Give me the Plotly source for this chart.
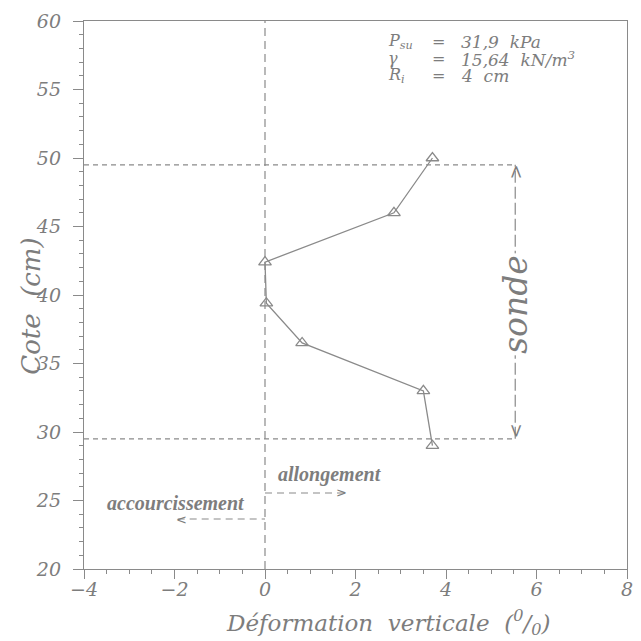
import plotly.graph_objects as go

# ---- data ----
deformation = [3.7, 2.85, 0.0, 0.03, 0.82, 3.5, 3.7]
cote = [50, 46, 42.4, 39.4, 36.5, 33, 29]

x_ticks = [-4, -2, 0, 2, 4, 6, 8]
y_ticks = [20, 25, 30, 35, 40, 45, 50, 55, 60]

sonde_top = 49.5
sonde_bottom = 29.5
sonde_x = 5.53
sonde_line_end = 5.46

param_labels = ["P<sub>su</sub>", "γ", "R<sub>i</sub>"]
param_values = ["31,9  kPa", "15,64  kN/m<sup>3</sup>", "4  cm"]

GREY_TXT = "#7d7d7d"
GREY_LN = "#8a8a8a"
SERIF = "DejaVu Serif"

fig = go.Figure()

fig.add_trace(go.Scatter(
    x=deformation, y=cote, mode="lines+markers",
    line=dict(color=GREY_LN, width=1.3),
    marker=dict(symbol="triangle-up-open", size=11, color=GREY_LN, line=dict(width=1.3)),
    showlegend=False, cliponaxis=False,
))

shapes = []
shapes.append(dict(type="line", xref="x", yref="y", x0=0, x1=0, y0=20, y1=60,
                   line=dict(color=GREY_LN, width=1.2, dash="8px,5px")))
for yv in (sonde_top, sonde_bottom):
    shapes.append(dict(type="line", xref="x", yref="y", x0=-4, x1=sonde_line_end, y0=yv, y1=yv,
                       line=dict(color=GREY_LN, width=1.2, dash="5px,4px")))
shapes.append(dict(type="line", xref="x", yref="y", x0=sonde_x, x1=sonde_x, y0=sonde_bottom, y1=sonde_top,
                   line=dict(color=GREY_LN, width=1.2, dash="12px,4px")))
shapes.append(dict(type="line", xref="x", yref="y", x0=0, x1=1.78, y0=25.55, y1=25.55,
                   line=dict(color=GREY_LN, width=1.1, dash="7px,5px")))
shapes.append(dict(type="line", xref="x", yref="y", x0=-1.93, x1=0, y0=23.65, y1=23.65,
                   line=dict(color=GREY_LN, width=1.1, dash="7px,5px")))

ann = []
ann.append(dict(x=sonde_x, y=39.3, xref="x", yref="y", text="sonde", showarrow=False,
                textangle=-90, bgcolor="white",
                font=dict(family=SERIF, size=33, color=GREY_TXT, style="italic")))
ann.append(dict(x=sonde_x, y=sonde_top, xref="x", yref="y", text="&gt;", showarrow=False,
                textangle=-90, yanchor="top", yshift=2,
                font=dict(family=SERIF, size=18, color=GREY_TXT)))
ann.append(dict(x=sonde_x, y=sonde_bottom, xref="x", yref="y", text="&lt;", showarrow=False,
                textangle=-90, yanchor="bottom", yshift=-2,
                font=dict(family=SERIF, size=18, color=GREY_TXT)))
ann.append(dict(x=1.43, y=26.9, xref="x", yref="y", text="allongement", showarrow=False,
                font=dict(family="Liberation Serif", size=20, color=GREY_TXT, style="italic", weight="bold")))
ann.append(dict(x=1.86, y=25.55, xref="x", yref="y", text="&gt;", showarrow=False, xanchor="right",
                font=dict(family=SERIF, size=13, color=GREY_TXT)))
ann.append(dict(x=-1.96, y=24.85, xref="x", yref="y", text="accourcissement", showarrow=False,
                font=dict(family="Liberation Serif", size=20, color=GREY_TXT, style="italic", weight="bold")))
ann.append(dict(x=-2.02, y=23.65, xref="x", yref="y", text="&lt;", showarrow=False, xanchor="left",
                font=dict(family=SERIF, size=13, color=GREY_TXT)))

row_y = [58.5, 57.25, 56.0]
for lab, val, yy in zip(param_labels, param_values, row_y):
    ann.append(dict(x=2.68, y=yy, xref="x", yref="y", text=lab, showarrow=False, xanchor="left",
                    font=dict(family=SERIF, size=16, color=GREY_TXT, style="italic")))
    ann.append(dict(x=3.83, y=yy, xref="x", yref="y", text="=", showarrow=False, xanchor="center",
                    font=dict(family=SERIF, size=16, color=GREY_TXT)))
    ann.append(dict(x=4.28, y=yy, xref="x", yref="y", text=val.replace("  ", "\u00a0\u00a0"),
                    showarrow=False, xanchor="left",
                    font=dict(family=SERIF, size=17, color=GREY_TXT, style="italic")))

ann.append(dict(x=0.56, y=-0.098, xref="paper", yref="paper", yanchor="middle",
                text="Déformation  verticale  (<sup>0</sup>/<sub>0</sub>)", showarrow=False,
                font=dict(family=SERIF, size=23, color=GREY_TXT, style="italic")))
ann.append(dict(x=-0.098, y=0.48, xref="paper", yref="paper", xanchor="center",
                text="Cote  (cm)", showarrow=False, textangle=-90,
                font=dict(family=SERIF, size=26, color=GREY_TXT, style="italic")))

tickfont = dict(family=SERIF, size=19, color=GREY_TXT, style="italic")

fig.update_layout(
    width=641, height=641,
    margin=dict(l=84, r=8, t=21, b=72),
    paper_bgcolor="white", plot_bgcolor="white",
    shapes=shapes, annotations=ann,
    xaxis=dict(range=[-4, 8], tickvals=x_ticks, ticks="outside", ticklen=9, tickwidth=1.2,
               tickcolor=GREY_LN, showline=True, linecolor=GREY_LN, linewidth=1.4,
               mirror=True, showgrid=False, zeroline=False, tickfont=tickfont,
               ticklabelstandoff=-6,
               minor=dict(dtick=0.5, ticks="outside", ticklen=4, tickcolor=GREY_LN, showgrid=False)),
    yaxis=dict(range=[20, 60], tickvals=y_ticks, ticks="outside", ticklen=10, tickwidth=1.2,
               tickcolor=GREY_LN, showline=True, linecolor=GREY_LN, linewidth=1.4,
               mirror=True, showgrid=False, zeroline=False, tickfont=tickfont,
               ticklabelstandoff=8,
               minor=dict(dtick=1, ticks="outside", ticklen=4, tickcolor=GREY_LN, showgrid=False)),
)

fig.write_html("out.html")
